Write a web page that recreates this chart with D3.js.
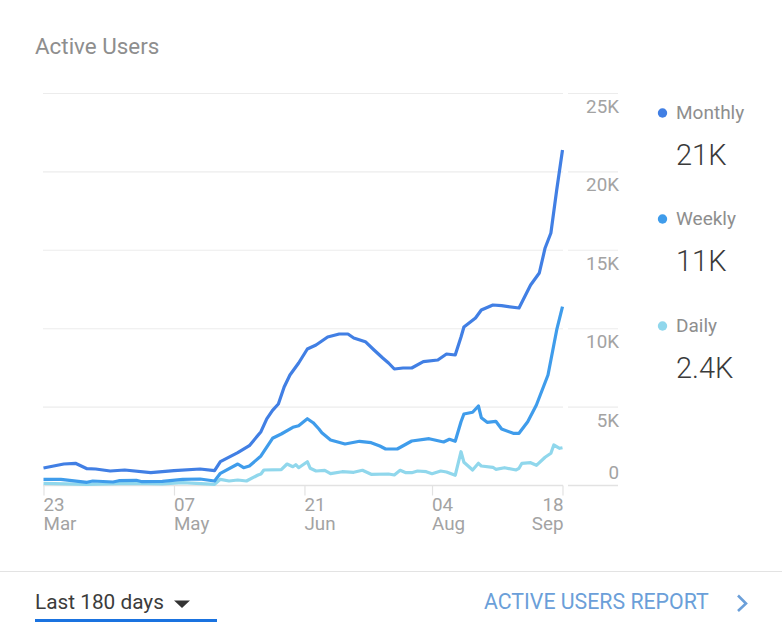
<!DOCTYPE html>
<html><head><meta charset="utf-8">
<script src="https://cdn.jsdelivr.net/npm/d3@7/dist/d3.min.js"></script>
<style>html,body{margin:0;padding:0;background:#fff}svg{display:block}text{font-family:Roboto,sans-serif}</style>
</head><body><svg id="c" width="782" height="631"></svg>
<script>
const monthlyDays=[0,7,11,15,18,23,28,37,45,54,59,61,67,71,75,77,79,81,83,85,88,91,94,98,102,105,107,111,114,117,119,121,124,127,131,136,139,142,144,145,149,151,155,158,164,168,171,173,175,177,179];
const monthlyValues=[1116,1371,1416,1071,1052,925,989,816,944,1052,944,1518,2092,2538,3431,4250,4790,5200,6282,7048,7813,8706,8961,9471,9662,9662,9408,9172,8642,8132,7813,7430,7494,7494,7896,8004,8387,8323,9471,10109,10683,11193,11512,11468,11321,12788,13553,15148,16105,18847,21398];
const weeklyDays=[0,6,15,17,24,26,32,34,41,48,54,59,61,67,69,71,75,79,82,86,88,91,93,95,96,99,104,109,113,116,118,122,127,133,138,140,142,144,145,148,150,151,153,156,158,162,164,167,170,174,176,177,179];
const weeklyValues=[395,395,204,287,223,306,332,242,268,395,415,287,778,1371,1135,1244,1882,3010,3285,3712,3814,4260,4005,3604,3368,2902,2647,2819,2730,2519,2328,2328,2838,2985,2774,2947,2819,4069,4560,4669,5070,4324,4031,4095,3604,3329,3329,4069,5134,7048,8961,9918,11404];
const dailyDays=[0,15,30,41,48,59,61,64,67,70,74,75,76,82,84,86,87,88,91,92,94,97,99,103,107,110,113,119,121,123,125,127,129,132,134,137,139,142,144,145,148,150,151,155,156,159,163,164,165,168,170,173,175,176,178,179];
const dailyValues=[140,77,140,96,179,77,395,287,351,287,670,733,989,1008,1371,1199,1327,1135,1518,1097,925,969,753,880,842,969,714,733,670,969,816,816,925,880,753,925,861,651,2156,1480,989,1416,1244,1161,1033,1135,989,1097,1416,1454,1288,1799,2054,2583,2373,2411];
const yTicks=[0,5000,10000,15000,20000,25000];
const yTickLabels=["0","5K","10K","15K","20K","25K"];
const xTicks=[0,45,90,134,179];
const xTickDays=["23","07","21","04","18"];
const xTickMonths=["Mar","May","Jun","Aug","Sep"];
const seriesNames=["Monthly","Weekly","Daily"];
const seriesTotals=["21K","11K","2.4K"];
const seriesColors=["#417fe4","#3f9ceb","#90d7ec"];
const title="Active Users", rangeLabel="Last 180 days", reportLabel="ACTIVE USERS REPORT";

const svg=d3.select("#c");
const x=d3.scaleLinear().domain([0,179]).range([43.5,562.5]);
const y=d3.scaleLinear().domain([0,25000]).range([485.5,93.5]);
const grey="#a3a3a3";

svg.append("text").attr("x",35).attr("y",54).attr("font-size",22.4).attr("fill","#8e8e8e").text(title);

// grid, broken around the end of the plot
const grid=svg.append("g");
[[43,563],[568,618]].forEach(([a,b])=>{
  grid.selectAll(null).data(yTicks).enter().append("line")
    .attr("x1",a).attr("x2",b).attr("y1",d=>y(d)).attr("y2",d=>y(d))
    .attr("stroke",d=>d===0?"#e2e2e2":"#ececec").attr("stroke-width",d=>d===0?1.6:1.1);
});

// x axis
const gx=svg.append("g").attr("transform","translate(0,485.5)")
  .call(d3.axisBottom(x).tickValues(xTicks).tickSize(10).tickFormat(""));
gx.select(".domain").remove();
gx.selectAll(".tick line").attr("stroke","#e2e2e2").attr("stroke-width",1.2);
gx.selectAll(".tick text").remove();
xTicks.forEach((d,i)=>{
  const last=i===xTicks.length-1;
  const t=svg.append("text").attr("font-size",18.8).attr("fill",grey)
    .attr("text-anchor",last?"end":"start");
  const px=x(d)+(last?1:0);
  t.append("tspan").attr("x",px).attr("y",511).text(xTickDays[i]);
  t.append("tspan").attr("x",px).attr("y",530).text(xTickMonths[i]);
});

// y axis
const gy=svg.append("g").attr("transform","translate(619,0)")
  .call(d3.axisLeft(y).tickValues(yTicks).tickSize(0).tickFormat((d,i)=>yTickLabels[i]));
gy.select(".domain").remove();
gy.selectAll(".tick text").attr("font-size",18.8).attr("font-family","Roboto,sans-serif").attr("fill",grey)
  .attr("x",0).attr("dy",(d)=>d===0?"-7px":"19px").attr("text-anchor","end");

// lines
const line=d3.line().x(d=>x(d[0])).y(d=>y(d[1]));
const seriesData=[[dailyDays,dailyValues],[weeklyDays,weeklyValues],[monthlyDays,monthlyValues]];
const drawColors=[seriesColors[2],seriesColors[1],seriesColors[0]];
seriesData.forEach(([ds,vs],i)=>{
  svg.append("path").datum(ds.map((d,j)=>[d,vs[j]])).attr("d",line)
    .attr("fill","none").attr("stroke",drawColors[i]).attr("stroke-width",3.2)
    .attr("stroke-linejoin","round");
});

// legend
const legendY=[113,219,326];
seriesNames.forEach((n,i)=>{
  svg.append("circle").attr("cx",662.5).attr("cy",legendY[i]).attr("r",4.7).attr("fill",seriesColors[i]);
  svg.append("text").attr("x",676).attr("y",legendY[i]+6).attr("font-size",19).attr("fill","#8e8e8e").text(n);
  svg.append("text").attr("x",676).attr("y",legendY[i]+52).attr("font-size",29).attr("font-weight",300).attr("fill","#3a3a3a").text(seriesTotals[i]);
});

// footer
svg.append("line").attr("x1",0).attr("x2",782).attr("y1",571.5).attr("y2",571.5).attr("stroke","#e3e3e3").attr("stroke-width",1.2);
svg.append("text").attr("x",35).attr("y",609).attr("font-size",20.8).attr("fill","#3c3c3c").text(rangeLabel);
svg.append("path").attr("d","M174,600.5H190L182,608Z").attr("fill","#333");
svg.append("rect").attr("x",35).attr("y",619).attr("width",182).attr("height",3).attr("fill","#1a73e0");
svg.append("text").attr("x",484).attr("y",609).attr("font-size",21.3).attr("fill","#6b9fd9").text(reportLabel);
svg.append("path").attr("d","M738,595.5L746,603.5L738,611").attr("fill","none").attr("stroke","#6b9fd9").attr("stroke-width",2.6);
</script></body></html>
